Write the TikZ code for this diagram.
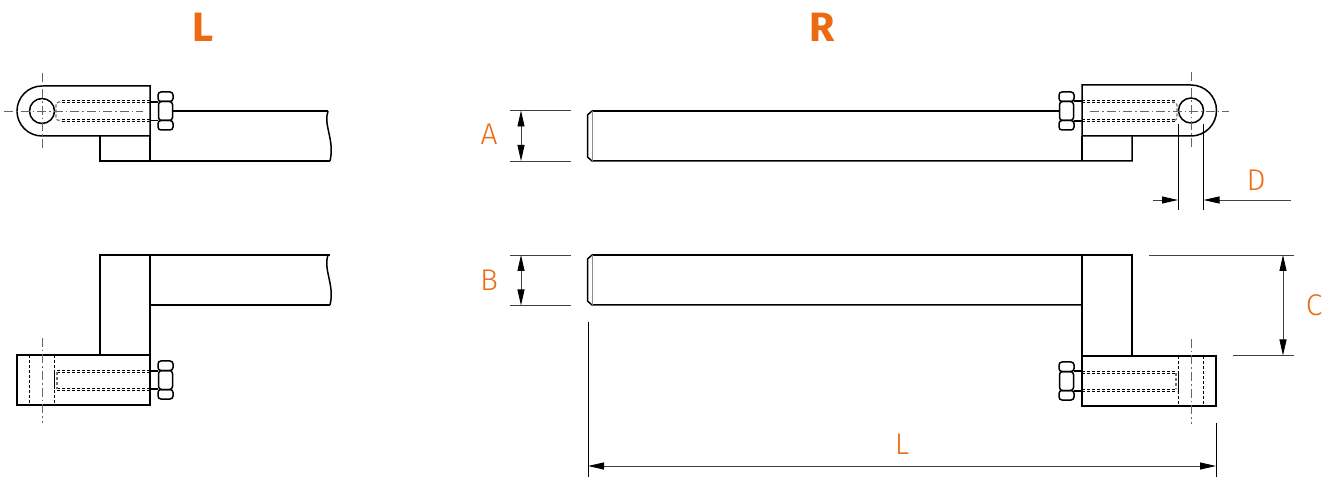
\documentclass[tikz,border=0pt]{standalone}
\usepackage{fontspec}
\setmainfont{Fira Sans}
\newfontfamily\lightface{Fira Sans Light}
\usetikzlibrary{arrows.meta}
\definecolor{dimorange}{HTML}{EC6A12}
\newcommand{\mynut}[2]{% x-left, y-centre
  \draw[part,rounded corners=3pt] (#1,#2-19) rectangle (#1+15,#2-9.5);
  \draw[part,rounded corners=3pt] (#1,#2+9.5) rectangle (#1+15,#2+19);
  \draw[part,rounded corners=3pt] (#1+0.5,#2-9.5) rectangle (#1+14.5,#2+9.5);
}
\tikzset{
  x=1pt,y=-1pt,
  part/.style={draw=black,line width=1.5pt},
  thinpart/.style={draw=black,line width=1pt},
  hid/.style={draw=black,line width=0.9pt,dash pattern=on 3.2pt off 1.8pt},
  hidgray/.style={draw=black!55,line width=1.2pt,dash pattern=on 3.2pt off 1.8pt},
  axisline/.style={draw=black!60,line width=0.9pt,dash pattern=on 9pt off 3pt on 1.5pt off 3pt},
  ext/.style={draw=black!75,line width=0.9pt},
  dimline/.style={draw=black!75,line width=0.9pt},
  arr/.style={dimline,{Triangle[length=16pt,width=7pt,fill=black,color=black]}-{Triangle[length=16pt,width=7pt,fill=black,color=black]}},
  tip/.style={dimline,-{Triangle[length=16pt,width=7pt,fill=black,color=black]}},
  dimlabel/.style={text=dimorange,font=\lightface\fontsize{30}{32}\selectfont},
  headlabel/.style={text=dimorange,font=\fontsize{41}{43}\selectfont\bfseries},
}
\begin{document}
\begin{tikzpicture}
\useasboundingbox (0,0) rectangle (1331,478);
% ---------- headings
\node[headlabel] (hL) at (203,27) {L};
\node[headlabel] (hR) at (822,27) {R};
% ---------- L, top view
\draw[part] (150,86) -- (42,86) arc[start angle=-90,end angle=-270,radius=25] -- (150,136) -- cycle;
\draw[part] (42,111) circle[radius=12.5];
\draw[part] (100,136) -- (100,161) -- (330,161);
\draw[part] (150,136) -- (150,161);
\draw[part] (173,111) -- (328,111);
\draw[part] (328,111) .. controls (323,125) and (335,140) .. (330,161);
\draw[hid] (150,100.5) -- (60,100.5) (150,102.5) -- (60,102.5);
\draw[hid] (150,119) -- (60,119) (150,121) -- (60,121);
\draw[hidgray,rounded corners=3pt] (60,102) -- (56,102) -- (56,120.5) -- (60,120.5);
\draw[part] (150,102) -- (158,102) (150,120.5) -- (158,120.5);
\mynut{158}{111}
\draw[axisline] (4,111) -- (143,111);
\draw[axisline] (42,73) -- (42,150);
% ---------- L, bottom view
\draw[part] (17,355) rectangle (150,405);
\draw[part] (100,355) -- (100,255) -- (330,255);
\draw[part] (150,355) -- (150,305) -- (330,305);
\draw[part] (150,305) -- (150,255);
\draw[part] (328,255) .. controls (323,270) and (335,285) .. (330,305);
\draw[hid] (29.5,355) -- (29.5,405) (54.5,355) -- (54.5,405);
\draw[hid] (150,370) -- (57,370) (150,372) -- (57,372);
\draw[hid] (150,388) -- (57,388) (150,390) -- (57,390);
\draw[hidgray] (57,372) -- (57,389);
\draw[thinpart] (54.5,371) -- (54.5,389);
\draw[part] (150,371) -- (158,371) (150,389) -- (158,389);
\mynut{158}{380}
\draw[axisline] (42,338) -- (42,423);
% ---------- R, top view
\draw[part] (592,111) -- (1059,111);
\draw[part] (592,111) -- (587.5,115) -- (587.5,157) -- (592,161) -- (1132,161) -- (1132,136);
\draw[draw=black!45,line width=1pt] (592,111) -- (592,161);
\draw[part] (1082,136) -- (1082,161);
\draw[part] (1082,85) -- (1191,85) arc[start angle=-90,end angle=90,radius=25.5] -- (1082,136) -- cycle;
\draw[part] (1191,110.5) circle[radius=12.5];
\draw[hid] (1082,100.5) -- (1176,100.5) (1082,102.5) -- (1176,102.5);
\draw[hid] (1082,119) -- (1176,119) (1082,121) -- (1176,121);
\draw[hidgray,rounded corners=3pt] (1172,102) -- (1177,102) -- (1177,120.5) -- (1172,120.5);
\draw[part] (1074,101) -- (1082,101) (1074,121) -- (1082,121);
\mynut{1059}{111}
\draw[axisline] (1090,111) -- (1229,111);
\draw[axisline] (1191,72) -- (1191,149);
% ---------- R, bottom view
\draw[part] (592,255) -- (1132,255) -- (1132,356);
\draw[part] (592,255) -- (587.5,259) -- (587.5,301) -- (592,305) -- (1082,305);
\draw[draw=black!45,line width=1pt] (592,255) -- (592,305);
\draw[part] (1082,255) -- (1082,356);
\draw[part] (1082,356) rectangle (1216,406);
\draw[hid] (1178.5,356) -- (1178.5,406) (1203.5,356) -- (1203.5,406);
\draw[hid] (1082,371) -- (1177,371) (1082,373) -- (1177,373);
\draw[hid] (1082,389) -- (1177,389) (1082,391) -- (1177,391);
\draw[hidgray] (1176,373) -- (1176,389);
\draw[thinpart] (1178.5,371) -- (1178.5,391);
\draw[part] (1074,371) -- (1082,371) (1074,391) -- (1082,391);
\mynut{1059}{381}
\draw[axisline] (1191,339) -- (1191,424);
% ---------- dimensions A, B
\draw[ext] (510,110.5) -- (571,110.5) (510,161) -- (571,161);
\draw[arr] (521,110.5) -- (521,161);
\node[dimlabel] (lA) at (489,134) {A};
\draw[ext] (510,255) -- (571,255) (510,305.5) -- (571,305.5);
\draw[arr] (521,255) -- (521,305.5);
\node[dimlabel] (lB) at (489,280) {B};
% ---------- dimension D
\draw[thinpart] (1178,124) -- (1178,210) (1203.5,124) -- (1203.5,210);
\draw[tip] (1153,200) -- (1178,200);
\draw[tip] (1291,200) -- (1203.5,200);
\node[dimlabel] (lD) at (1256,180) {D};
% ---------- dimension C
\draw[ext] (1149,255) -- (1294,255) (1233,355.5) -- (1294,355.5);
\draw[arr] (1283,255) -- (1283,355.5);
\node[dimlabel] (lC) at (1314,305) {C};
% ---------- dimension L
\draw[thinpart] (588,322) -- (588,477) (1216,423) -- (1216,477);
\draw[arr] (588,466) -- (1216,466);
\node[dimlabel] (lL) at (902,444) {L};
\end{tikzpicture}
\end{document}
